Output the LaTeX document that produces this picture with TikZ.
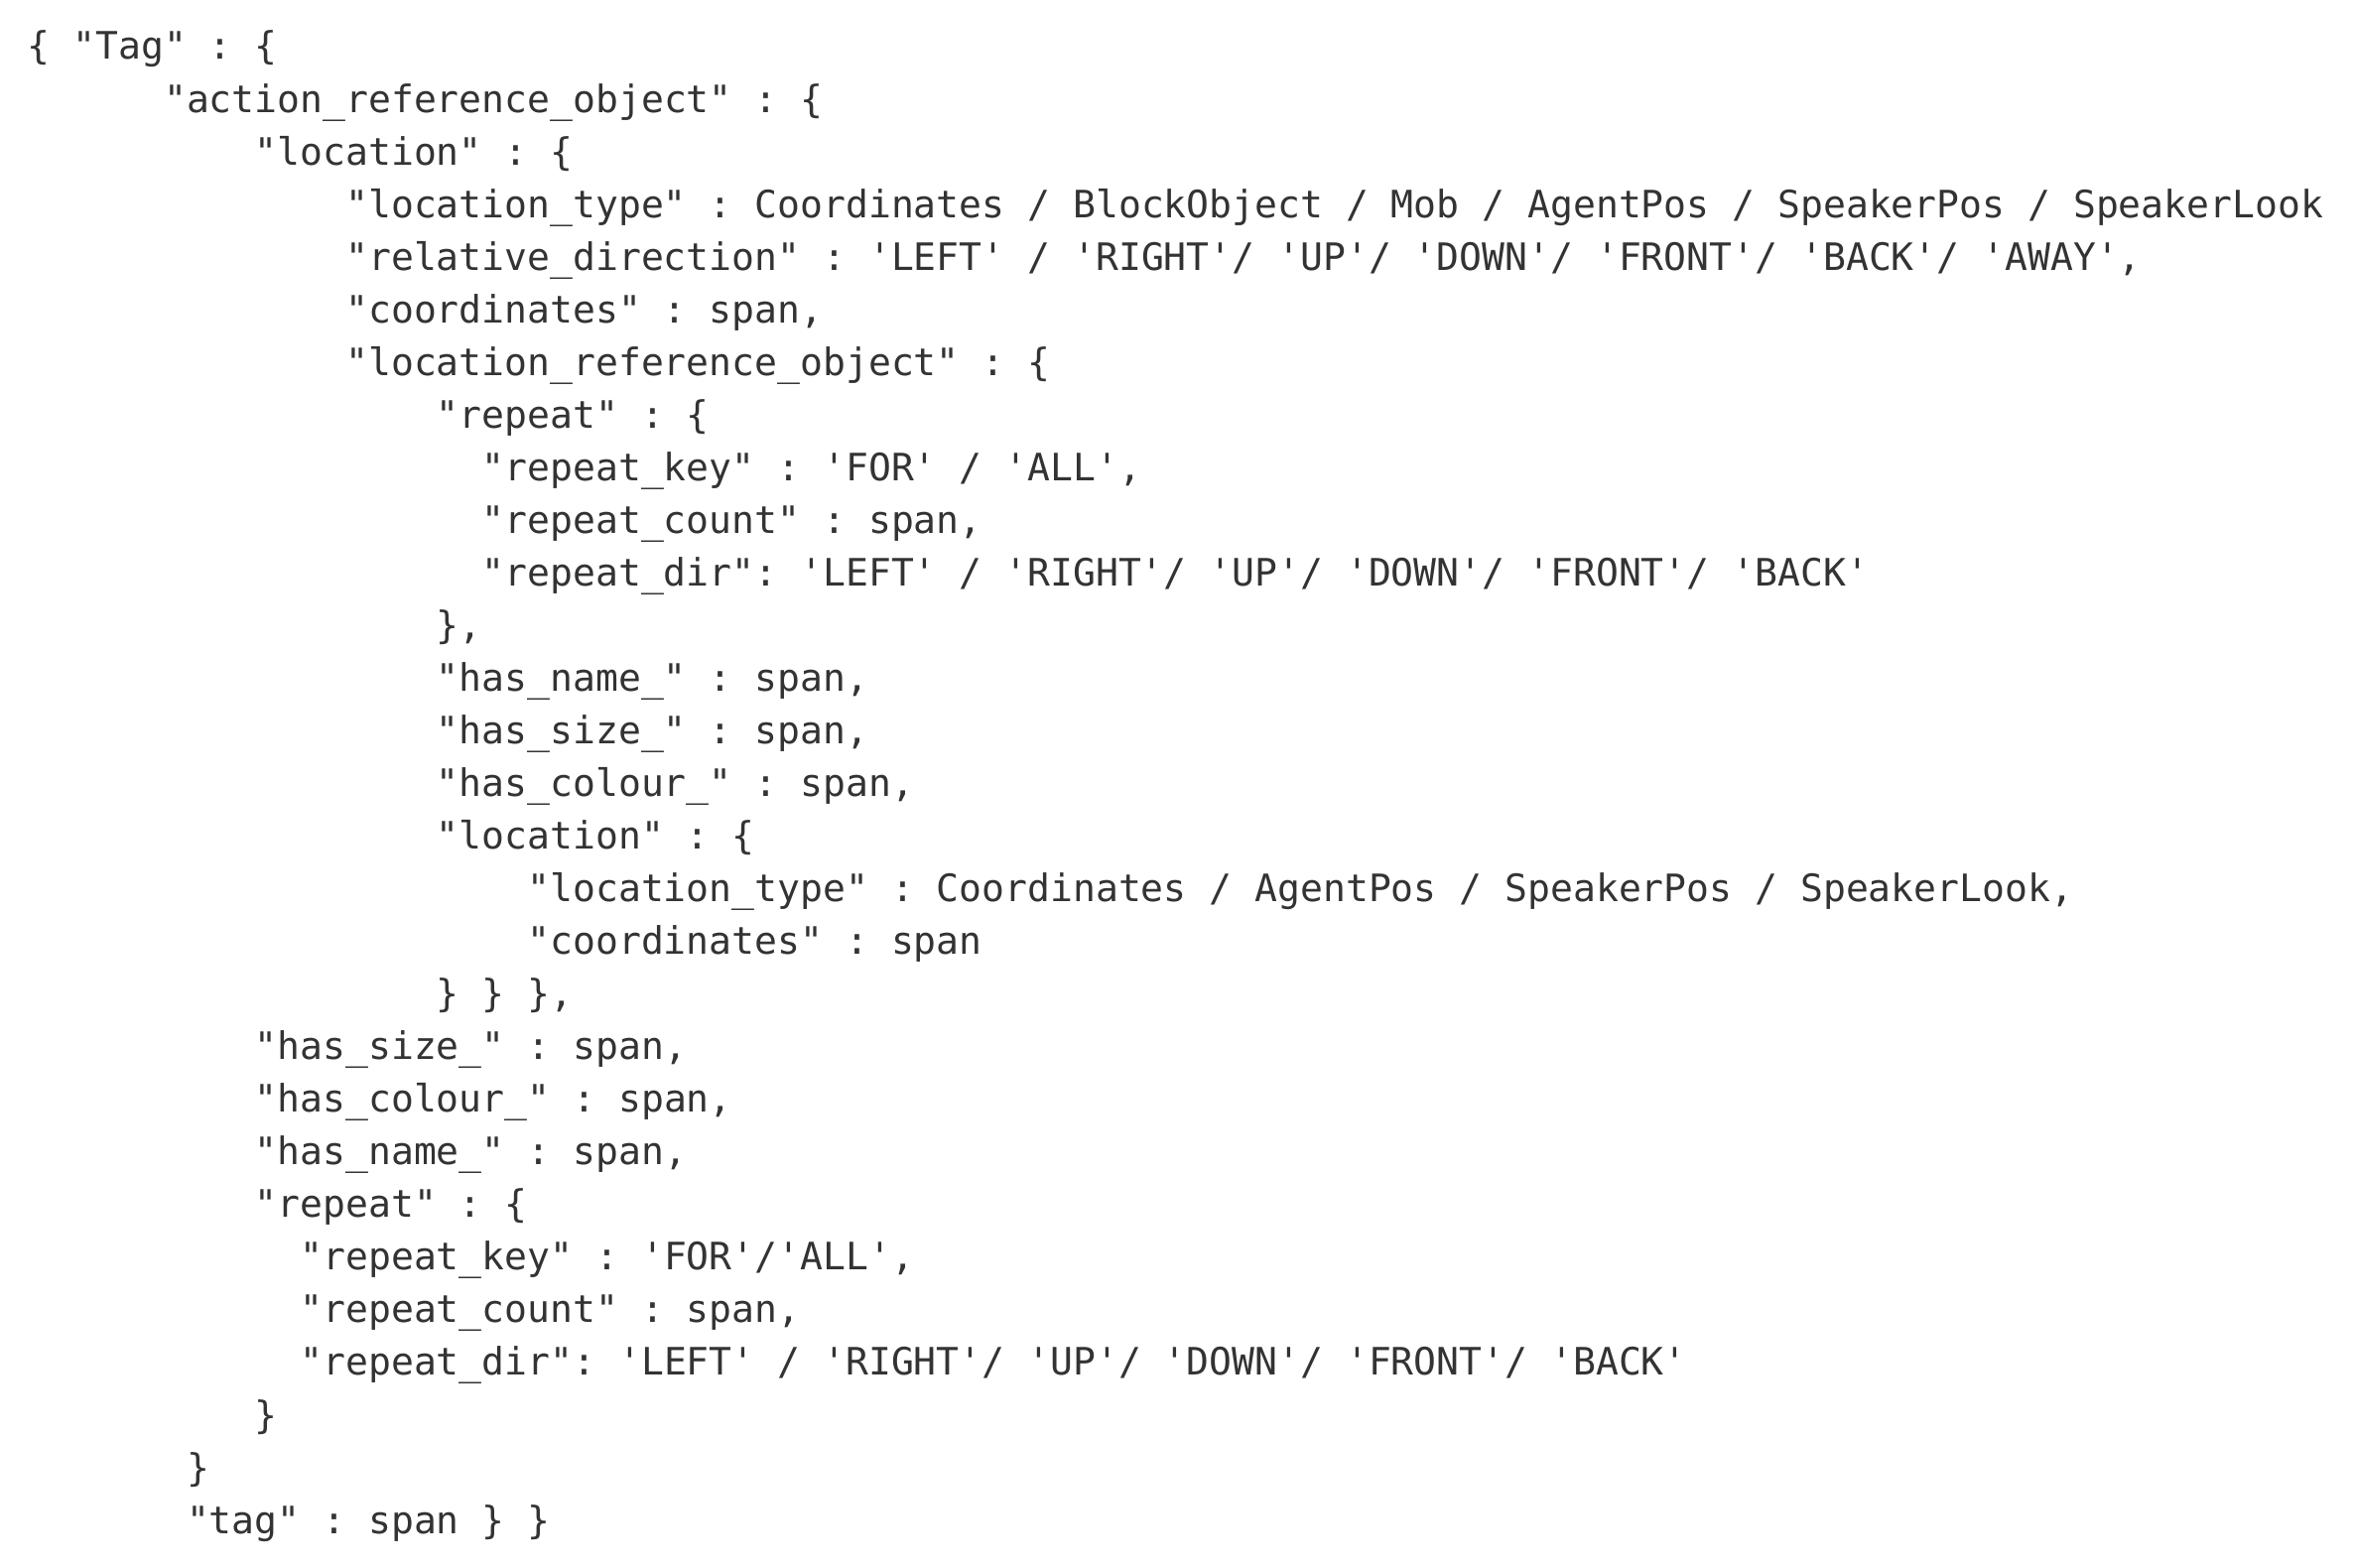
\documentclass[tikz,border=0pt]{standalone}
\usepackage{fontspec}
\setmonofont{DejaVu Sans Mono}
\definecolor{codegray}{RGB}{51,51,51}
\newcommand{\codefont}{\ttfamily\frenchspacing\fontsize{10.82pt}{15pt}\selectfont}

\begin{document}
\begin{tikzpicture}[x = 0.01cm, y = -0.01cm,
  codeline/.style = {anchor = base west, inner sep = 0pt, text = codegray, font = \codefont}]

\useasboundingbox (0, 0) rectangle (2372, 1580);



%%% Tag


\node [codeline] (l1) at (27, 60) {\{ "Tag" : \{};

\node [codeline] (l2) at (164.4, 113.04) {"action\_reference\_object" : \{};

\node [codeline] (l3) at (256, 166.08) {"location" : \{};



%%% Location


\node [codeline] (l4) at (347.6, 219.12) {"location\_type" : Coordinates / BlockObject / Mob / AgentPos / SpeakerPos / SpeakerLook};

\node [codeline] (l5) at (347.6, 272.16) {"relative\_direction" : 'LEFT' / 'RIGHT'/ 'UP'/ 'DOWN'/ 'FRONT'/ 'BACK'/ 'AWAY',};

\node [codeline] (l6) at (347.6, 325.2) {"coordinates" : span,};

\node [codeline] (l7) at (347.6, 378.24) {"location\_reference\_object" : \{};



%%% Location reference object
%%
\node [codeline] (l8) at (439.2, 431.28) {"repeat" : \{};

\node [codeline] (l9) at (485, 484.32) {"repeat\_key" : 'FOR' / 'ALL',};

\node [codeline] (l10) at (485, 537.36) {"repeat\_count" : span,};

\node [codeline] (l11) at (485, 590.4) {"repeat\_dir": 'LEFT' / 'RIGHT'/ 'UP'/ 'DOWN'/ 'FRONT'/ 'BACK'};

\node [codeline] (l12) at (439.2, 643.44) {\},};

\node [codeline] (l13) at (439.2, 696.48) {"has\_name\_" : span,};

\node [codeline] (l14) at (439.2, 749.52) {"has\_size\_" : span,};

\node [codeline] (l15) at (439.2, 802.56) {"has\_colour\_" : span,};

\node [codeline] (l16) at (439.2, 855.6) {"location" : \{};

\node [codeline] (l17) at (530.8, 908.64) {"location\_type" : Coordinates / AgentPos / SpeakerPos / SpeakerLook,};

\node [codeline] (l18) at (530.8, 961.68) {"coordinates" : span};

\node [codeline] (l19) at (439.2, 1014.72) {\} \} \},};



%%% Action reference object


\node [codeline] (l20) at (256, 1067.76) {"has\_size\_" : span,};

\node [codeline] (l21) at (256, 1120.8) {"has\_colour\_" : span,};

\node [codeline] (l22) at (256, 1173.84) {"has\_name\_" : span,};

\node [codeline] (l23) at (256, 1226.88) {"repeat" : \{};

\node [codeline] (l24) at (301.8, 1279.92) {"repeat\_key" : 'FOR'/'ALL',};

\node [codeline] (l25) at (301.8, 1332.96) {"repeat\_count" : span,};

\node [codeline] (l26) at (301.8, 1386) {"repeat\_dir": 'LEFT' / 'RIGHT'/ 'UP'/ 'DOWN'/ 'FRONT'/ 'BACK'};

\node [codeline] (l27) at (256, 1439.04) {\}};

\node [codeline] (l28) at (187.3, 1492.08) {\}};

\node [codeline] (l29) at (187.3, 1545.12) {"tag" : span \} \}};

\end{tikzpicture}
\end{document}
